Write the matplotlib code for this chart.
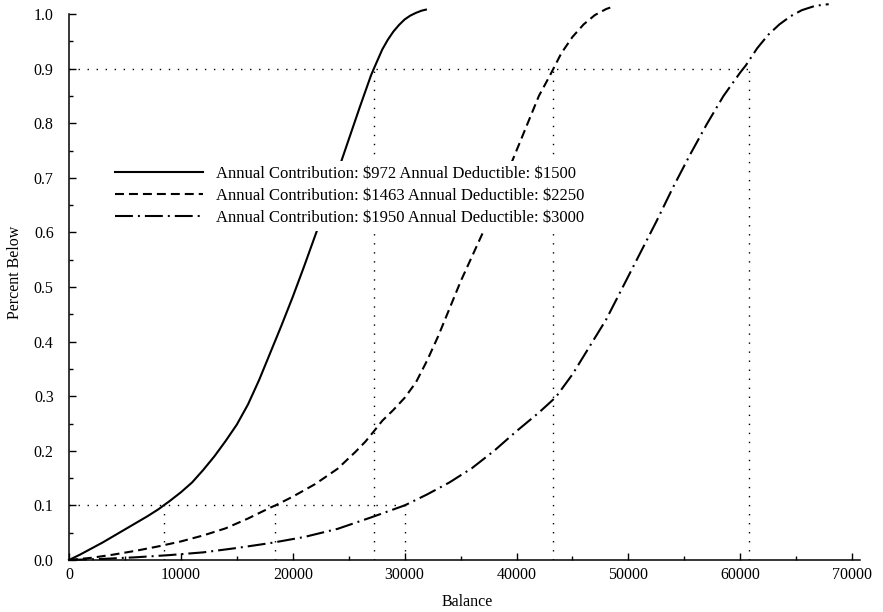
import matplotlib
matplotlib.use("Agg")
import matplotlib.pyplot as plt
from matplotlib.ticker import MultipleLocator, FormatStrFormatter

plt.rcParams['font.family'] = ['Liberation Serif', 'DejaVu Serif']

# ---- data ----
labels = [
    r"Annual Contribution: \$972 Annual Deductible: \$1500",
    r"Annual Contribution: \$1463 Annual Deductible: \$2250",
    r"Annual Contribution: \$1950 Annual Deductible: \$3000",
]

solid_x = [0, 1000, 2000, 3000, 4000, 5000, 6000, 7000, 8000, 8460, 9000, 10000,
           11000, 12000, 13000, 14000, 15000, 16000, 17000, 18000, 19000, 20000,
           21000, 22000, 23000, 24000, 25000, 26000, 27000, 27250, 28000, 28500,
           29000, 29500, 30000, 30500, 31000, 31500, 31900]
solid_y = [0, 0.010, 0.021, 0.032, 0.044, 0.056, 0.068, 0.080, 0.093, 0.100, 0.108, 0.124,
           0.142, 0.165, 0.190, 0.218, 0.248, 0.285, 0.330, 0.380, 0.430, 0.482,
           0.537, 0.594, 0.650, 0.710, 0.770, 0.830, 0.888, 0.900, 0.935, 0.953,
           0.968, 0.980, 0.990, 0.997, 1.002, 1.006, 1.008]

dashed_x = [0, 2000, 4000, 6000, 8000, 10000, 12000, 14000, 16000, 18000, 18450, 20000,
            22000, 24000, 25600, 26500, 27300, 28000, 29000, 30000, 31000, 32000, 33000,
            34000, 35000, 36000, 37000, 38000, 39000, 40000, 41000, 42000, 43000, 43300,
            44000, 45000, 46000, 47000, 48000, 48800]
dashed_y = [0, 0.004, 0.010, 0.017, 0.025, 0.034, 0.045, 0.058, 0.076, 0.096, 0.100, 0.116,
            0.139, 0.167, 0.198, 0.217, 0.237, 0.255, 0.275, 0.297, 0.325, 0.365, 0.410,
            0.460, 0.510, 0.555, 0.600, 0.650, 0.700, 0.750, 0.800, 0.850, 0.888, 0.900,
            0.928, 0.958, 0.981, 0.998, 1.009, 1.015]

dashdot_x = [0, 3000, 6000, 9000, 12000, 15000, 18000, 21000, 24000, 27000, 30000, 32000,
             34000, 36000, 38000, 40000, 42000, 43500, 45000, 46500, 48000, 49500, 51000,
             52500, 54000, 55500, 57000, 58500, 60000, 60500, 61500, 62500, 63500, 64500,
             65500, 66700, 67900]
dashdot_y = [0, 0.002, 0.005, 0.009, 0.014, 0.022, 0.031, 0.042, 0.057, 0.078, 0.100, 0.120,
             0.142, 0.168, 0.200, 0.236, 0.270, 0.298, 0.340, 0.390, 0.440, 0.500, 0.560,
             0.620, 0.683, 0.742, 0.798, 0.850, 0.893, 0.906, 0.937, 0.962, 0.981, 0.996,
             1.007, 1.015, 1.018]

# reference (dotted) guide lines
p10_x = [8460, 18450, 30000]     # balances where each curve reaches 0.1
p90_x = [27250, 43300, 60800]    # balances where each curve reaches 0.9
p10_level = 0.1
p90_level = 0.9

x_ticks = [0, 10000, 20000, 30000, 40000, 50000, 60000, 70000]
y_ticks = [0.0, 0.1, 0.2, 0.3, 0.4, 0.5, 0.6, 0.7, 0.8, 0.9, 1.0]

# ---- figure ----
W, H = 883, 612
fig = plt.figure(figsize=(W / 100, H / 100), dpi=100)
ax = fig.add_axes([69 / W, 1 - 560 / H, 791 / W, 546 / H])
ax.set_xlim(0, 70700)
ax.set_ylim(0, 1.0)

lw = 1.5
ax.plot(solid_x, solid_y, color='black', lw=lw, label=labels[0], clip_on=False, zorder=3)
ax.plot(dashed_x, dashed_y, color='black', lw=lw, dashes=(4.3, 2.4), label=labels[1],
        clip_on=False, zorder=3)
ax.plot(dashdot_x, dashdot_y, color='black', lw=lw, dashes=(8.6, 2.4, 0.95, 2.4),
        label=labels[2], clip_on=False, zorder=3)

dot_style = dict(color='black', lw=1.0, linestyle=(0, (1, 5.5)), zorder=2)
ax.hlines(p90_level, 0, max(p90_x), **dot_style)
ax.hlines(p10_level, 0, max(p10_x), **dot_style)
ax.vlines(p10_x, 0, p10_level, **dot_style)
ax.vlines(p90_x, 0, p90_level, **dot_style)

# axes styling
for s in ['top', 'right']:
    ax.spines[s].set_visible(False)
for s in ['left', 'bottom']:
    ax.spines[s].set_linewidth(1.1)

ax.set_xticks(x_ticks)
ax.set_yticks(y_ticks)
ax.xaxis.set_minor_locator(MultipleLocator(5000))
ax.yaxis.set_minor_locator(MultipleLocator(0.05))
ax.yaxis.set_major_formatter(FormatStrFormatter('%.1f'))
ax.tick_params(which='both', direction='in', top=False, right=False, width=1.0,
               labelsize=11.5, colors='black')
ax.tick_params(which='major', length=5)
ax.tick_params(which='minor', length=3)
ax.tick_params(axis='y', which='major', pad=11)
ax.tick_params(axis='x', which='major', pad=5)

fig.text(467 / W, 1 - 602 / H, "Balance", ha='center', va='center', fontsize=11.5)
fig.text(15 / W, 1 - 272 / H, "Percent Below", ha='center', va='center',
         rotation=90, fontsize=11.5)

leg = ax.legend(loc='upper left', bbox_to_anchor=(0.052, 0.731), fontsize=12,
                handlelength=5.3, handletextpad=0.78, labelspacing=0.37,
                borderpad=0.3, borderaxespad=0, frameon=True, fancybox=False,
                framealpha=1.0, facecolor='white')
leg.get_frame().set_linewidth(0)
leg.set_zorder(5)

fig.savefig("out.png", dpi=100, facecolor='white')
